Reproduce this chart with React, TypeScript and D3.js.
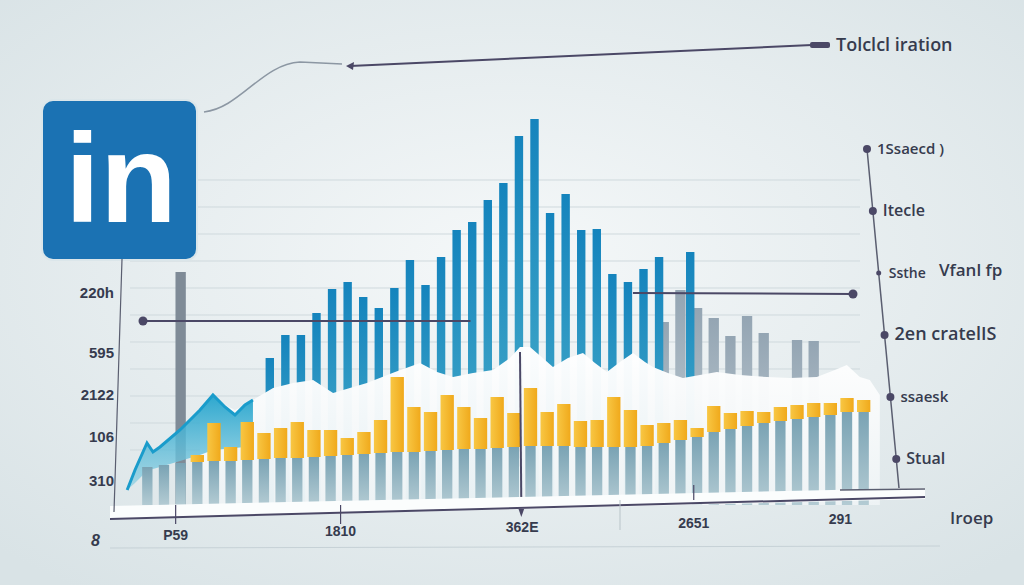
import React from 'react';
import * as d3 from 'd3';

const W = 1024;
const H = 585;

// front columns: steel-blue base with a yellow segment stacked on top
const lowerValues = [38, 40, 42, 43, 44, 44, 45, 46, 47, 47, 48, 49, 50, 51, 52, 53, 53, 54, 55, 56, 56, 57, 58, 59, 59, 59, 58, 58, 58, 58, 59, 62, 65, 68, 73, 76, 79, 82, 84, 86, 88, 90, 93, 93];
const yellowValues = [0, 0, 0, 7, 38, 14, 38, 26, 30, 36, 27, 26, 17, 22, 33, 75, 45, 39, 55, 42, 31, 51, 34, 58, 34, 42, 26, 27, 50, 37, 21, 20, 20, 9, 26, 16, 15, 11, 14, 14, 14, 12, 14, 12];
// grey columns in the back (same slots)
const grayValues: (number | null)[] = [null, null, 233, null, null, null, null, null, null, null, null, null, null, null, null, null, null, null, null, null, null, null, null, null, null, null, null, null, null, null, null, 183, 215, 197, 187, 169, 189, 172, null, 165, 164, null, null, null];
// tall blue columns
const blueValues = [147, 170, 170, 192, 216, 223, 208, 197, 217, 245, 220, 248, 275, 283, 305, 322, 369, 386, 292, 311, 275, 276, 231, 223, 236, 248, 0, 253];

// teal ridge on the left: slot, top, bottom
const tealRidge: [number, number, number][] = [
  [-1.21, 15, 15], [-0.74, 35, 22], [-0.02, 62, 34], [0.34, 53, 36], [0.76, 58, 38], [1.96, 75, 44],
  [3.16, 95, 50], [3.94, 110, 55], [4.66, 98, 56], [5.26, 90, 57], [5.86, 100, 58], [6.34, 105, 60],
];
// white ridge behind the front columns: slot, top
const whiteRidge: [number, number][] = [
  [3.16, 95], [3.94, 108], [4.66, 100], [5.26, 95], [5.86, 100], [6.34, 105], [7.55, 117], [8.75, 122],
  [9.95, 125], [11.15, 112], [12.16, 117], [13.18, 122], [14.87, 133], [16.37, 142], [17.39, 133],
  [18.35, 128], [19.55, 132], [20.75, 135], [21.77, 147], [22.37, 158], [22.97, 158], [23.87, 145],
  [24.35, 138], [25.25, 147], [26.15, 152], [26.87, 142], [27.59, 133], [28.37, 143], [29.15, 152],
  [29.87, 143], [30.35, 138], [31.25, 132], [32.15, 127], [33.17, 130], [34.19, 133], [35.57, 130],
  [37.19, 128], [38.57, 127], [40.19, 128], [41.27, 135], [41.99, 140], [42.77, 128], [43.37, 125], [43.97, 110],
];

const gridValues = [325, 298, 271, 244, 217, 190, 163, 136, 109, 82, 55];
const leftTickLabels = ['220h', '595', '2122', '106', '310', '8'];
const leftTickValues = [212, 152, 110, 68, 24, -36];
const bottomTickLabels = ['P59', '1810', '362E', '2651', '291'];
const bottomTickSlots = [1.7, 11.6, 22.5, 32.8, 41.6];
const rightLabels = ['1Ssaecd )', 'Itecle', 'Ssthe', '2en cratelIS', 'ssaesk', 'Stual'];

const INK = '#363b4e';
const LINE = '#4b4866';

export default function App() {
  const slots = d3.range(lowerValues.length);
  const x = d3.scaleBand<number>().domain(slots).range([139, 872]).paddingInner(0.38).paddingOuter(0.19);
  const xi = d3.scaleLinear().domain([-0.5, 43.5]).range([139, 872]);
  const xb = d3.scaleBand<number>().domain(d3.range(blueValues.length)).range([262, 698]).paddingInner(0.46).paddingOuter(0.23);
  const y = d3.scaleLinear().domain([0, 400]).range([505, 105]);

  const rows = slots.map(i => ({ lower: lowerValues[i], yellow: yellowValues[i] }));
  const stacked = d3.stack<{ lower: number; yellow: number }>().keys(['lower', 'yellow'])(rows);

  const tealArea = d3.area<[number, number, number]>()
    .x(d => xi(d[0])).y0(d => y(d[2])).y1(d => y(d[1])).curve(d3.curveLinear);
  const tealLine = d3.line<[number, number, number]>().x(d => xi(d[0])).y(d => y(d[1]));
  const whiteArea = d3.area<[number, number]>().x(d => xi(d[0])).y0(y(0)).y1(d => y(d[1]));

  const bw = x.bandwidth();
  const yRight = d3.scalePoint<string>().domain(rightLabels).range([149, 459]);
  const rightX = (yy: number) => 867 + ((yy - 149) / (488 - 149)) * 32;
  const rightSizes = [15, 16, 14, 18, 15, 16];

  return (
    <svg width={W} height={H} style={{ position: 'absolute', left: 0, top: 0 }}>
      <defs>
        <radialGradient id="bg" cx="50%" cy="45%" r="70%">
          <stop offset="0%" stopColor="#f5f8f9" />
          <stop offset="100%" stopColor="#d9e3e6" />
        </radialGradient>
        <linearGradient id="blue" x1="0" y1="0" x2="0" y2="1">
          <stop offset="0%" stopColor="#1584bd" />
          <stop offset="100%" stopColor="#4db1cb" />
        </linearGradient>
        <linearGradient id="gray" x1="0" y1="0" x2="0" y2="1">
          <stop offset="0%" stopColor="#94a5b3" />
          <stop offset="100%" stopColor="#c6d2d8" />
        </linearGradient>
        <linearGradient id="steel" x1="0" y1="0" x2="0" y2="1">
          <stop offset="0%" stopColor="#7aa3b4" />
          <stop offset="100%" stopColor="#b3cbd3" />
        </linearGradient>
        <linearGradient id="yellow" x1="0" y1="0" x2="1" y2="0">
          <stop offset="0%" stopColor="#f8c744" />
          <stop offset="100%" stopColor="#f0a91b" />
        </linearGradient>
        <linearGradient id="white" x1="0" y1="0" x2="0" y2="1">
          <stop offset="0%" stopColor="#ffffff" stopOpacity={0.98} />
          <stop offset="100%" stopColor="#eef3f5" stopOpacity={0.96} />
        </linearGradient>
        <linearGradient id="teal" x1="0" y1="0" x2="0" y2="1">
          <stop offset="0%" stopColor="#22a3cc" stopOpacity={0.95} />
          <stop offset="100%" stopColor="#8fd0e2" stopOpacity={0.7} />
        </linearGradient>
      </defs>

      <rect width={W} height={H} fill="url(#bg)" />

      {/* grid */}
      {gridValues.map(v => (
        <line key={v} x1={130} x2={860} y1={y(v)} y2={y(v)} stroke="#cfd9dd" strokeWidth={1} />
      ))}

      {/* top connector and title */}
      <path d="M204,112 C240,108 262,64 300,62 L342,64" fill="none" stroke="#8c97a3" strokeWidth={1.5} />
      <line x1={350} y1={66} x2={812} y2={45} stroke={LINE} strokeWidth={2} />
      <path d="M346,66 L354,62 L353,70 Z" fill={LINE} />
      <rect x={810} y={42} width={20} height={6} rx={2} fill={LINE} />
      <text x={836} y={51} fontFamily="Open Sans, DejaVu Sans, sans-serif" fontWeight={600} fontSize={18} fill={INK}>Tolclcl iration</text>

      {/* logo */}
      <rect x={41} y={99} width={157} height={162} rx={12} fill="#dbe6ea" />
      <rect x={43} y={101} width={153} height={158} rx={10} fill="#1b72b3" />
      <text x={65} y={222} fontFamily="Liberation Sans, Arial, sans-serif" fontWeight={700} fontSize={126} fill="#ffffff">in</text>

      {/* grey back columns */}
      {slots.map(i => grayValues[i] == null ? null : (
        <rect key={`g${i}`} x={x(i)!} y={y(grayValues[i]!)} width={bw}
          height={y(0) - y(grayValues[i]!)} fill={i === 2 ? '#7f8b97' : 'url(#gray)'} />
      ))}

      {/* blue columns */}
      {blueValues.map((v, j) => v <= 0 ? null : (
        <rect key={`b${j}`} x={xb(j)!} y={y(v)} width={xb.bandwidth()} height={y(0) - y(v)} fill="url(#blue)" />
      ))}

      {/* horizontal markers */}
      <line x1={xi(-0.26)} x2={xi(19.4)} y1={y(184)} y2={y(184)} stroke={LINE} strokeWidth={2} />
      <circle cx={xi(-0.26)} cy={y(184)} r={4.5} fill={LINE} />
      <line x1={xi(29.15)} x2={xi(42.36)} y1={y(212)} y2={y(211)} stroke={LINE} strokeWidth={2} />
      <circle cx={xi(42.36)} cy={y(211)} r={4.5} fill={LINE} />

      {/* ridges */}
      <path d={whiteArea(whiteRidge)!} fill="url(#white)" />
      <path d={tealArea(tealRidge)!} fill="url(#teal)" />
      <path d={tealLine(tealRidge)!} fill="none" stroke="#1a9ccb" strokeWidth={3} />

      {/* front stacked columns */}
      {stacked[0].map((d, i) => (
        <rect key={`l${i}`} x={x(i)!} y={y(d[1])} width={bw} height={y(d[0]) - y(d[1])} fill="url(#steel)" />
      ))}
      {stacked[1].map((d, i) => d[1] - d[0] <= 0 ? null : (
        <rect key={`y${i}`} x={x(i)! - 1.5} y={y(d[1])} width={bw + 3} height={y(d[0]) - y(d[1])} fill="url(#yellow)" />
      ))}

      {/* vertical marker */}
      <line x1={xi(22.37)} x2={xi(22.45)} y1={y(153)} y2={y(-2)} stroke={LINE} strokeWidth={2} />
      <path d={`M${xi(22.45) - 3.5},${y(-2)} L${xi(22.45) + 3.5},${y(-2)} L${xi(22.45)},${y(-12)} Z`} fill={LINE} />

      {/* base platform */}
      <path d="M110,506 L925,488 L925,499 L110,519 Z" fill="#fbfdfd" />
      <path d="M110,519 L925,497" stroke={LINE} strokeWidth={2} fill="none" />
      <line x1={110} x2={940} y1={548} y2={546} stroke="#c6d1d6" strokeWidth={1} />
      <line x1={620} x2={620} y1={500} y2={530} stroke="#b9c4c9" strokeWidth={1} />
      {bottomTickSlots.slice(0, 2).map(s => (
        <line key={s} x1={xi(s)} x2={xi(s)} y1={505} y2={524} stroke={LINE} strokeWidth={1.2} />
      ))}
      <line x1={xi(32.8)} x2={xi(32.8)} y1={485} y2={500} stroke={LINE} strokeWidth={1.2} />
      {bottomTickLabels.map((t, k) => (
        <text key={t} x={xi(bottomTickSlots[k])} y={540 - (xi(bottomTickSlots[k]) - 175) * 0.024}
          textAnchor="middle" fontFamily="Liberation Sans Narrow, Liberation Sans, sans-serif" fontWeight={700}
          fontSize={14} fill={INK}>{t}</text>
      ))}
      <text x={950} y={524} fontFamily="Open Sans, DejaVu Sans, sans-serif" fontWeight={600} fontSize={17} fill={INK}>Iroep</text>

      {/* left axis */}
      <line x1={122} y1={259} x2={114} y2={512} stroke="#5a5e70" strokeWidth={1.2} />
      {leftTickLabels.map((t, k) => (
        <text key={t} x={k === 5 ? 100 : 114} y={y(leftTickValues[k]) + 5} textAnchor="end"
          fontFamily="Liberation Sans Narrow, Liberation Sans, sans-serif" fontWeight={700}
          fontStyle={k === 5 ? 'italic' : 'normal'} fontSize={k === 5 ? 16 : 15} fill={INK}>{t}</text>
      ))}

      {/* right axis */}
      <line x1={867} y1={149} x2={899} y2={488} stroke="#5a5e70" strokeWidth={1.5} />
      <line x1={840} y1={490} x2={925} y2={489} stroke="#5a5e70" strokeWidth={1.5} />
      {rightLabels.map((t, k) => {
        const yy = yRight(t)!;
        const cx = rightX(yy);
        return (
          <g key={t}>
            <circle cx={cx} cy={yy} r={k === 2 ? 2.5 : 4} fill={LINE} />
            <text x={cx + 10} y={yy + 5} fontFamily="Open Sans, DejaVu Sans, sans-serif" fontWeight={600}
              fontSize={rightSizes[k]} fill={INK}>{t}</text>
          </g>
        );
      })}
      <text x={939} y={276} fontFamily="Open Sans, DejaVu Sans, sans-serif" fontWeight={600} fontSize={17} fill={INK}>Vfanl fp</text>
    </svg>
  );
}
